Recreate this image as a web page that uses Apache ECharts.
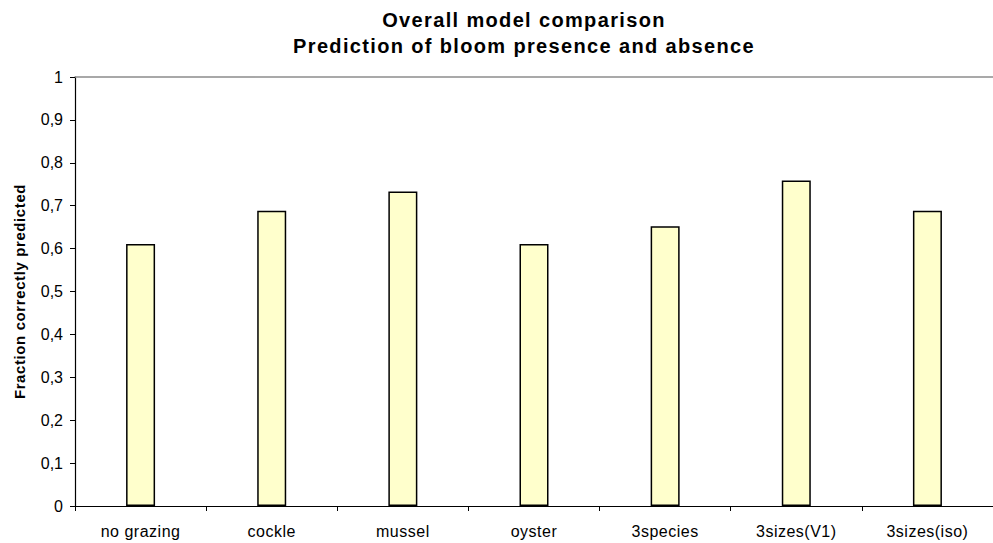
<!DOCTYPE html>
<html>
<head>
<meta charset="utf-8">
<script src="https://cdn.jsdelivr.net/npm/echarts@6/dist/echarts.min.js"></script>
<style>
  html, body { margin: 0; padding: 0; background: #fff; }
  #chart { width: 993px; height: 543px; }
</style>
</head>
<body>
<div id="chart"></div>
<script>
// Model variants and the fraction of bloom presence/absence each one predicts correctly
const categories = ['no grazing', 'cockle', 'mussel', 'oyster', '3species', '3sizes(V1)', '3sizes(iso)'];
const fractionCorrect = [0.611, 0.688, 0.733, 0.611, 0.652, 0.759, 0.688];
const titleLines = ['Overall model comparison', 'Prediction of bloom presence and absence'];
const yAxisTitle = 'Fraction correctly predicted';

const FONT = '"Liberation Sans", Arial, sans-serif';

const chart = echarts.init(document.getElementById('chart'), null, { renderer: 'svg' });

chart.setOption({
  animation: false,
  backgroundColor: '#ffffff',
  title: {
    text: titleLines.join('\n'),
    left: 524,
    top: 6.5,
    padding: 0,
    textAlign: 'center',
    textStyle: {
      fontFamily: FONT,
      fontWeight: 'bold',
      fontSize: 20,
      lineHeight: 26.5,
      color: '#000'
    }
  },
  grid: { left: 75, right: -6, top: 77, bottom: 37, containLabel: false },
  xAxis: [
    {
      type: 'category',
      data: categories,
      position: 'bottom',
      axisLine: { lineStyle: { color: '#000', width: 1.2 } },
      axisTick: { show: true, length: 5, alignWithLabel: false, lineStyle: { color: '#000' } },
      axisLabel: { margin: 17, fontFamily: FONT, fontSize: 16, color: '#000', interval: 0 },
      splitLine: { show: false }
    },
    {
      // upper edge of the plot area at the value 1
      type: 'category',
      data: categories,
      position: 'top',
      axisLine: { lineStyle: { color: '#8c8c8c', width: 1.5 } },
      axisTick: { show: false },
      axisLabel: { show: false },
      splitLine: { show: false }
    }
  ],
  yAxis: {
    type: 'value',
    min: 0,
    max: 1,
    interval: 0.1,
    name: yAxisTitle,
    nameLocation: 'middle',
    nameGap: 48,
    nameTextStyle: { fontFamily: FONT, fontWeight: 'bold', fontSize: 15, color: '#000' },
    axisLine: { show: true, lineStyle: { color: '#000', width: 1.2 } },
    axisTick: { show: true, length: 5, lineStyle: { color: '#000' } },
    axisLabel: {
      margin: 12,
      fontFamily: FONT,
      fontSize: 16,
      color: '#000',
      formatter: v => String(Math.round(v * 10) / 10).replace('.', ',')
    },
    splitLine: { show: false }
  },
  series: [{
    type: 'bar',
    data: fractionCorrect,
    barWidth: 29,
    itemStyle: { color: '#ffffcc', borderColor: '#000', borderWidth: 1.5 }
  }]
});

// Slightly open up the letter spacing of the title and label text
const spacing = new Map();
titleLines.forEach(t => spacing.set(t, '1.35px'));
categories.forEach(t => spacing.set(t, '0.5px'));
spacing.set(yAxisTitle, '0.6px');
function applySpacing() {
  document.querySelectorAll('#chart svg text, #chart svg tspan').forEach(el => {
    const s = spacing.get(el.textContent);
    if (s) el.style.letterSpacing = s;
  });
}
chart.on('finished', applySpacing);
applySpacing();
</script>
</body>
</html>
